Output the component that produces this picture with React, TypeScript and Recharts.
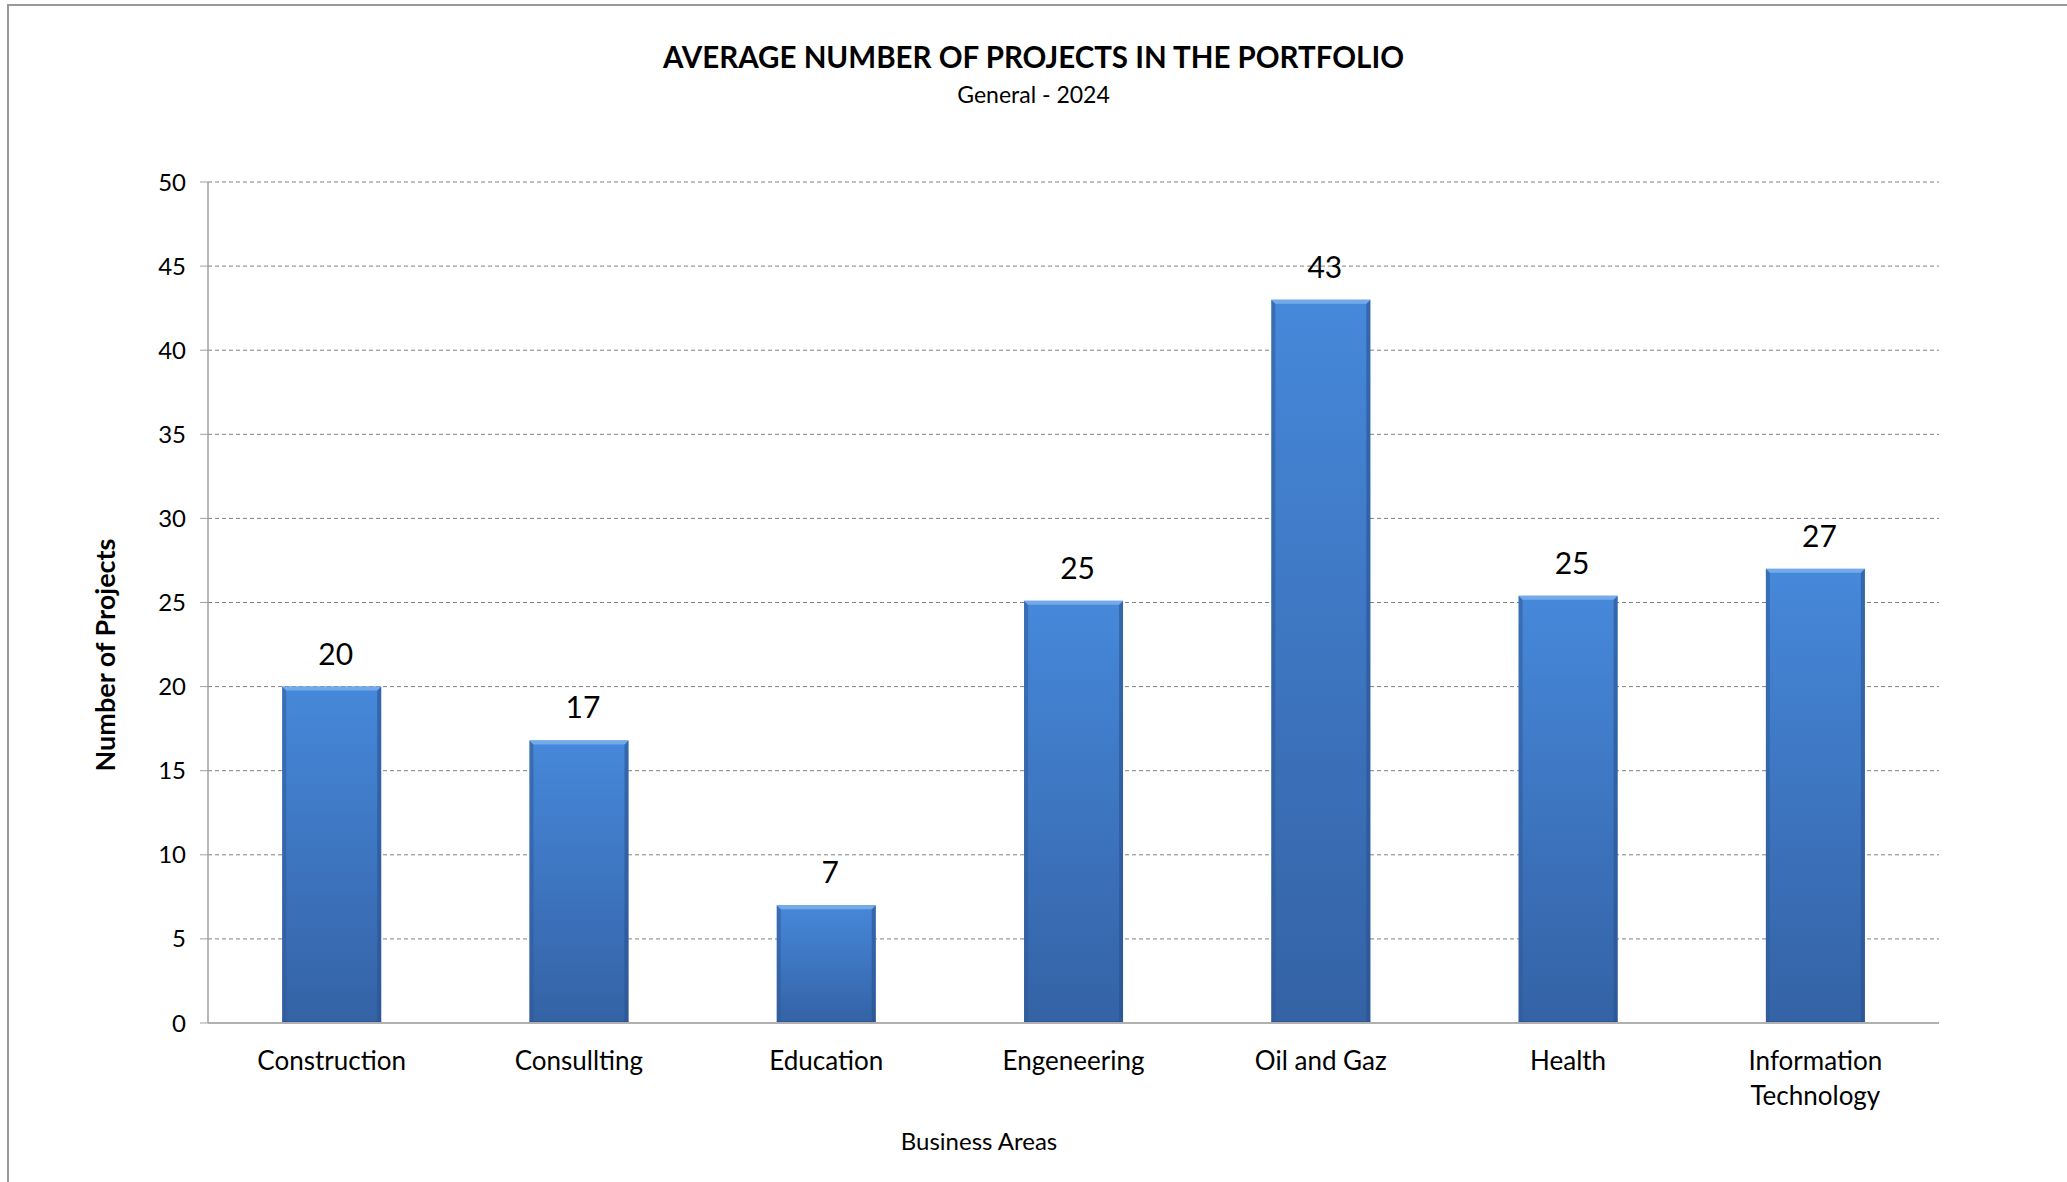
import React from 'react';
import { BarChart, Bar, XAxis, YAxis, CartesianGrid, LabelList } from 'recharts';

const categories = ['Construction', 'Consullting', 'Education', 'Engeneering', 'Oil and Gaz', 'Health', 'Information Technology'];
const projects = [20, 16.8, 7, 25.1, 43, 25.4, 27];
const valueLabels = ['20', '17', '7', '25', '43', '25', '27'];
const yTicks = [0, 5, 10, 15, 20, 25, 30, 35, 40, 45, 50];

const data = categories.map((name, i) => ({ name, projects: projects[i], label: valueLabels[i] }));

const FONT = 'Lato, "Open Sans", sans-serif';

const BevelBar = (props: any) => {
  const { x, y, width, height } = props;
  if (!height || height <= 0) return null;
  const b = 4;
  return (
    <g>
      <rect x={x} y={y} width={width} height={height} fill="url(#barFill)" />
      <polygon points={`${x},${y} ${x + b},${y + b} ${x + b},${y + height} ${x},${y + height}`} fill="#2f5a97" opacity={0.55} />
      <polygon points={`${x + width},${y} ${x + width - b},${y + b} ${x + width - b},${y + height} ${x + width},${y + height}`} fill="#2a5290" opacity={0.6} />
      <polygon points={`${x},${y} ${x + width},${y} ${x + width - b},${y + b} ${x + b},${y + b}`} fill="#74aaea" />
      <rect x={x} y={y + height - 2} width={width} height={2} fill="#2b5289" opacity={0.6} />
    </g>
  );
};

// wrap long category names onto two lines, like the original
const CategoryTick = (props: any) => {
  const { x, y, payload } = props;
  const text: string = payload.value;
  const lines = text.length > 15 ? text.split(' ') : [text];
  return (
    <text x={x} y={y} textAnchor="middle" fontSize={26} fontFamily={FONT} fill="#000">
      {lines.map((line, i) => (
        <tspan key={i} x={x} dy={i === 0 ? '0.71em' : 35}>
          {line}
        </tspan>
      ))}
    </text>
  );
};

const ValueLabel = (props: any) => {
  const { x, y, width, value } = props;
  return (
    <text x={x + width / 2 + 4} y={y - 22} textAnchor="middle" fontSize={30} fontFamily={FONT} fill="#000">
      {value}
    </text>
  );
};

export default function App() {
  return (
    <div style={{ position: 'relative', width: 2067, height: 1182, background: '#fff', overflow: 'hidden', fontFamily: FONT }}>
      <style>{'body{margin:0}'}</style>
      <div style={{ position: 'absolute', left: 7, top: 4, width: 2100, height: 1200, borderTop: '2px solid #999', borderLeft: '2px solid #999' }} />
      <div style={{ position: 'absolute', left: 0, width: 2067, top: 39, textAlign: 'center', fontWeight: 700, fontSize: 29.5, color: '#000' }}>
        AVERAGE NUMBER OF PROJECTS IN THE PORTFOLIO
      </div>
      <div style={{ position: 'absolute', left: 0, width: 2067, top: 80, textAlign: 'center', fontSize: 23, color: '#000' }}>
        General - 2024
      </div>
      <div style={{ position: 'absolute', left: 0, width: 2067, top: 0 }}>
        <BarChart width={2067} height={1182} data={data} margin={{ top: 182, right: 128, bottom: 59, left: 148 }} barCategoryGap="30%">
          <defs>
            <linearGradient id="barFill" x1="0" y1="0" x2="0" y2="1">
              <stop offset="0%" stopColor="#4688da" />
              <stop offset="100%" stopColor="#3462a5" />
            </linearGradient>
          </defs>
          <CartesianGrid vertical={false} stroke="#808080" strokeDasharray="4 3" />
          <XAxis
            dataKey="name"
            interval={0}
            height={100}
            axisLine={{ stroke: '#b0b0b0', strokeWidth: 2 }}
            tickLine={false}
            tickSize={0}
            tickMargin={29}
            tick={<CategoryTick />}
          />
          <YAxis
            domain={[0, 50]}
            ticks={yTicks}
            width={60}
            axisLine={{ stroke: '#a0a0a0', strokeWidth: 1.5 }}
            tickLine={{ stroke: '#a0a0a0' }}
            tickSize={8}
            tickMargin={14}
            tick={{ fontSize: 24, fontFamily: FONT, fill: '#000' }}
          />
          <Bar dataKey="projects" shape={<BevelBar />} isAnimationActive={false}>
            <LabelList dataKey="label" content={<ValueLabel />} />
          </Bar>
        </BarChart>
      </div>
      <div style={{ position: 'absolute', left: 105 - 200, top: 655 - 16, width: 400, textAlign: 'center', transform: 'rotate(-90deg)', fontWeight: 700, fontSize: 27, color: '#000', lineHeight: '32px' }}>
        Number of Projects
      </div>
      <div style={{ position: 'absolute', left: 979 - 150, top: 1126, width: 300, textAlign: 'center', fontSize: 24, color: '#000' }}>
        Business Areas
      </div>
    </div>
  );
}
